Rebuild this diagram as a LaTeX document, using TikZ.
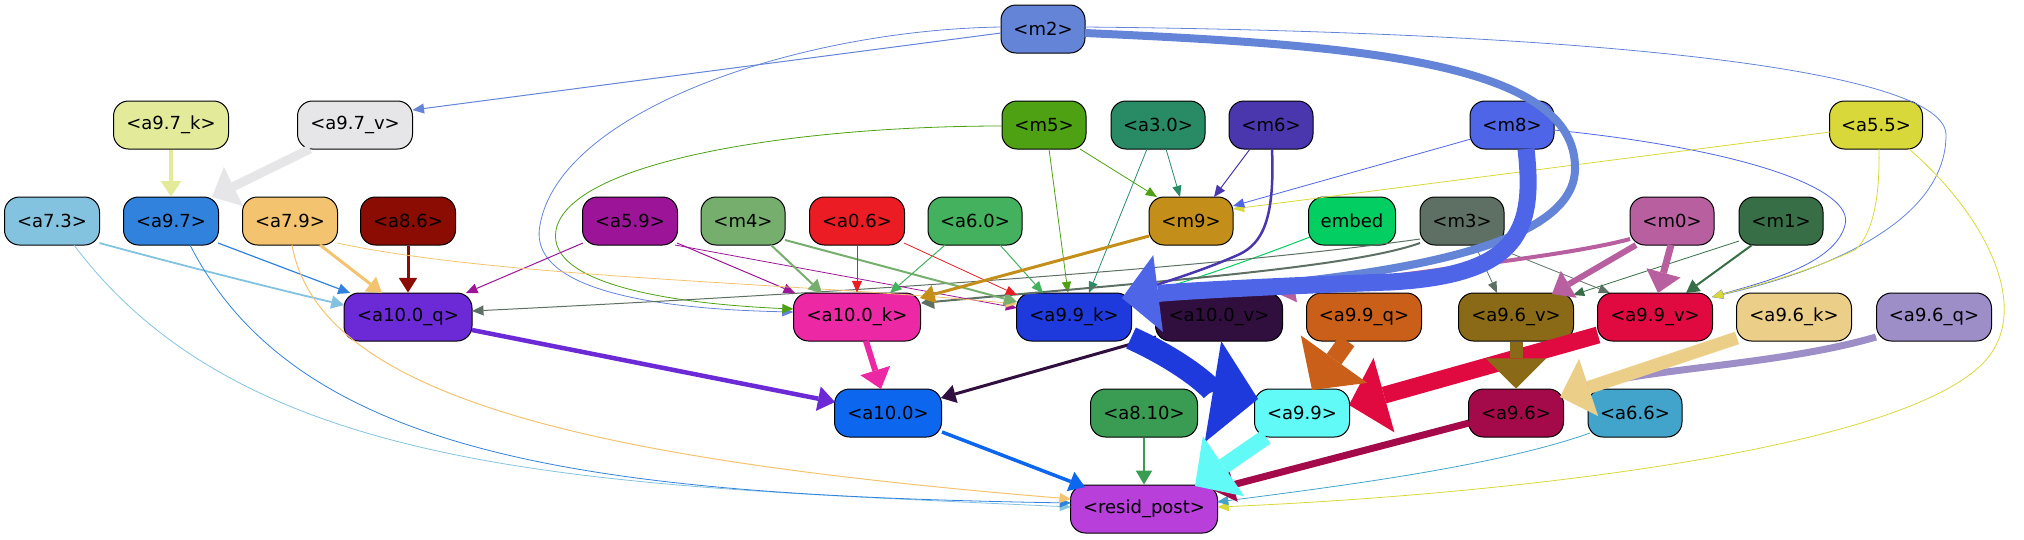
\documentclass[tikz,border=0pt]{standalone}
\usepackage{fontspec}
\setmainfont{DejaVu Sans}
\usetikzlibrary{arrows.meta,calc}
\definecolor{cm2}{HTML}{6484D8}
\definecolor{ca97k}{HTML}{E3EB9B}
\definecolor{ca97v}{HTML}{E6E6E8}
\definecolor{ca73}{HTML}{84C3E0}
\definecolor{ca97}{HTML}{3182DD}
\definecolor{ca79}{HTML}{F3C36F}
\definecolor{ca86}{HTML}{8A0C02}
\definecolor{ca59}{HTML}{9C1598}
\definecolor{cm4}{HTML}{76AE6E}
\definecolor{ca06}{HTML}{EB1C23}
\definecolor{ca60}{HTML}{43B15D}
\definecolor{cm5}{HTML}{4DA112}
\definecolor{ca30}{HTML}{298B66}
\definecolor{cm6}{HTML}{4A37AE}
\definecolor{cm9}{HTML}{C38E19}
\definecolor{cembed}{HTML}{03CE62}
\definecolor{cm3}{HTML}{5E7064}
\definecolor{cm8}{HTML}{4F65E7}
\definecolor{ca55}{HTML}{D8D83A}
\definecolor{cm0}{HTML}{B85FA0}
\definecolor{cm1}{HTML}{386E45}
\definecolor{ca100q}{HTML}{6B2AD6}
\definecolor{ca100k}{HTML}{EC28A4}
\definecolor{ca99k}{HTML}{1F3ADC}
\definecolor{ca100v}{HTML}{300F3F}
\definecolor{ca99q}{HTML}{CA5F19}
\definecolor{ca96v}{HTML}{8B6A17}
\definecolor{ca99v}{HTML}{E10A40}
\definecolor{ca96k}{HTML}{EBCE88}
\definecolor{ca96q}{HTML}{9D8EC8}
\definecolor{ca100}{HTML}{0C67EE}
\definecolor{ca810}{HTML}{3A9B53}
\definecolor{ca99}{HTML}{62FAF6}
\definecolor{ca96}{HTML}{A40A4A}
\definecolor{ca66}{HTML}{42A4CA}
\definecolor{cresid}{HTML}{B83FDA}
\begin{document}
\begin{tikzpicture}[x=1pt,y=1pt,
  nd/.style={draw=black, line width=1pt, rounded corners=15pt, minimum height=48pt, inner sep=0pt, font=\fontsize{18}{20}\selectfont, text=black},
  ed/.style={-{Triangle[length=10pt 1.55, width=6pt 4.2, line width=0pt]}, line join=miter}]
\useasboundingbox (0,0) rectangle (2024,-539);
% row 1
\node[nd, fill=cm2, minimum width=84] (m2) at (1043,-29) {<m2>};
% row 2
\node[nd, fill=ca97k, minimum width=115] (a97k) at (171,-125) {<a9.7\_k>};
\node[nd, fill=ca97v, minimum width=115] (a97v) at (355,-125) {<a9.7\_v>};
\node[nd, fill=cm5, minimum width=84] (m5) at (1044,-125) {<m5>};
\node[nd, fill=ca30, minimum width=94] (a30) at (1158,-125) {<a3.0>};
\node[nd, fill=cm6, minimum width=84] (m6) at (1271,-125) {<m6>};
\node[nd, fill=cm8, minimum width=84] (m8) at (1512,-125) {<m8>};
\node[nd, fill=ca55, minimum width=93] (a55) at (1876,-125) {<a5.5>};
% row 3
\node[nd, fill=ca73, minimum width=95] (a73) at (52,-221) {<a7.3>};
\node[nd, fill=ca97, minimum width=95] (a97) at (171,-221) {<a9.7>};
\node[nd, fill=ca79, minimum width=95] (a79) at (290,-221) {<a7.9>};
\node[nd, fill=ca86, minimum width=95] (a86) at (408,-221) {<a8.6>};
\node[nd, fill=ca59, minimum width=95] (a59) at (630,-221) {<a5.9>};
\node[nd, fill=cm4, minimum width=84] (m4) at (743,-221) {<m4>};
\node[nd, fill=ca06, minimum width=95] (a06) at (857,-221) {<a0.6>};
\node[nd, fill=ca60, minimum width=94] (a60) at (975,-221) {<a6.0>};
\node[nd, fill=cm9, minimum width=84] (m9) at (1191,-221) {<m9>};
\node[nd, fill=cembed, minimum width=87] (embed) at (1352,-221) {embed};
\node[nd, fill=cm3, minimum width=84] (m3) at (1462,-221) {<m3>};
\node[nd, fill=cm0, minimum width=84] (m0) at (1672,-221) {<m0>};
\node[nd, fill=cm1, minimum width=84] (m1) at (1781,-221) {<m1>};
% row 4
\node[nd, fill=ca100q, minimum width=128] (a100q) at (408,-317) {<a10.0\_q>};
\node[nd, fill=ca100k, minimum width=127] (a100k) at (857,-317) {<a10.0\_k>};
\node[nd, fill=ca99k, minimum width=115] (a99k) at (1074,-317) {<a9.9\_k>};
\node[nd, fill=ca100v, minimum width=127] (a100v) at (1219,-317) {<a10.0\_v>};
\node[nd, fill=ca99q, minimum width=115] (a99q) at (1364,-317) {<a9.9\_q>};
\node[nd, fill=ca96v, minimum width=115] (a96v) at (1516,-317) {<a9.6\_v>};
\node[nd, fill=ca99v, minimum width=115] (a99v) at (1655,-317) {<a9.9\_v>};
\node[nd, fill=ca96k, minimum width=115] (a96k) at (1794,-317) {<a9.6\_k>};
\node[nd, fill=ca96q, minimum width=115] (a96q) at (1934,-317) {<a9.6\_q>};
% row 5
\node[nd, fill=ca100, minimum width=107] (a100) at (888,-413) {<a10.0>};
\node[nd, fill=ca810, minimum width=107] (a810) at (1144,-413) {<a8.10>};
\node[nd, fill=ca99, minimum width=95] (a99) at (1302,-413) {<a9.9>};
\node[nd, fill=ca96, minimum width=95] (a96) at (1516,-413) {<a9.6>};
\node[nd, fill=ca66, minimum width=94] (a66) at (1635,-413) {<a6.6>};
% row 6
\node[nd, fill=cresid, minimum width=147] (resid) at (1144,-509) {<resid\_post>};

% ---- thin / long edges
\draw[ed, cm2, line width=1] ($(m2)+(-42,-4)$) -- ($(a97v)+(57.5,15)$);
\draw[ed, cm2, line width=0.8] ($(m2)+(-42,2)$) .. controls (800,-30) and (560,-110) .. (540,-225) .. controls (525,-300) and (700,-310) .. ($(a100k)+(-63.5,5)$);
\draw[ed, cm5, line width=0.8] ($(m5)+(-42,-1)$) .. controls (800,-126) and (570,-160) .. (556,-230) .. controls (545,-290) and (700,-305) .. ($(a100k)+(-63.5,8)$);
\draw[ed, cm2, line width=0.8] ($(m2)+(42,2)$) .. controls (1600,-32) and (1946,-70) .. (1946,-135) .. controls (1946,-220) and (1830,-270) .. ($(a99v)+(57,20)$);
\draw[ed, cm8, line width=0.8] ($(m8)+(42,-5)$) .. controls (1750,-150) and (1855,-190) .. (1845,-225) .. controls (1835,-265) and (1760,-283) .. ($(a99v)+(57,20)$);
\draw[ed, ca55, line width=0.8] ($(a55)+(3,-24)$) .. controls (1880,-200) and (1872,-235) .. (1855,-250) .. controls (1800,-275) and (1750,-287) .. ($(a99v)+(57,20)$);
\draw[ed, ca55, line width=0.8] ($(a55)+(-46,-7)$) -- ($(m9)+(42,12)$);
\draw[ed, cm8, line width=0.8] ($(m8)+(-41,-14)$) -- ($(m9)+(42,15)$);
\draw[ed, ca55, line width=0.8] ($(a55)+(33,-24)$) .. controls (1980,-210) and (2030,-300) .. (1990,-355) .. controls (1920,-450) and (1500,-495) .. ($(resid)+(73.5,2)$);
\draw[ed, cm5, line width=0.8] ($(m5)+(36,-24)$) -- ($(m9)+(-34,24)$);
\draw[ed, cm5, line width=0.8] ($(m5)+(5,-24)$) -- ($(a99k)+(-6,24)$);
\draw[ed, ca30, line width=0.8] ($(a30)+(8,-24)$) -- ($(m9)+(-11,24)$);
\draw[ed, ca30, line width=0.8] ($(a30)+(-11,-24)$) -- ($(a99k)+(15,24)$);
\draw[ed, cm6, line width=1] ($(m6)+(-21,-24)$) -- ($(m9)+(23,24)$);
\draw[ed, cembed, line width=1] ($(embed)+(-42,-16)$) .. controls (1250,-260) and (1180,-285) .. ($(a99k)+(57,21)$);
\draw[ed, cm3, line width=1] ($(m3)+(-42,-18)$) .. controls (1200,-270) and (800,-295) .. ($(a100q)+(64,6)$);
\draw[ed, cm3, line width=2] ($(m3)+(-42,-22)$) .. controls (1350,-268) and (1150,-282) .. ($(a100k)+(64,14)$);
\draw[ed, cm3, line width=0.8] ($(m3)+(13,-24)$) -- ($(a96v)+(-19,24)$);
\draw[ed, cm3, line width=0.8] ($(m3)+(28,-24)$) -- ($(a99v)+(-45,24)$);
\draw[ed, cm1, line width=0.8] ($(m1)+(-42,-20)$) -- ($(a96v)+(57,22)$);
\draw[ed, cm1, line width=2] ($(m1)+(-29,-24)$) -- ($(a99v)+(31,24)$);
% left cluster
\draw[ed, ca97k, line width=3.5] (a97k.south) -- (a97.north);
\draw[ed, ca73, line width=1.8] ($(a73)+(47.5,-22)$) .. controls (180,-265) and (280,-290) .. ($(a100q)+(-64,12)$);
\draw[ed, ca97, line width=1.2] ($(a97)+(47,-22)$) -- ($(a100q)+(-58,24)$);
\draw[ed, ca79, line width=3] ($(a79)+(30,-24)$) -- ($(a100q)+(-26,24)$);
\draw[ed, ca86, line width=3] (a86.south) -- (a100q.north);
\draw[ed, ca59, line width=1] ($(a59)+(-47,-22)$) -- ($(a100q)+(58,24)$);
\draw[ed, ca59, line width=1] ($(a59)+(47,-22)$) -- ($(a100k)+(-62,24)$);
\draw[ed, ca59, line width=0.8] ($(a59)+(45,-24)$) -- ($(a99k)+(-57,9)$);
\draw[ed, ca79, line width=0.8] ($(a79)+(47,-22)$) .. controls (500,-278) and (800,-283) .. ($(a99k)+(-57,13)$);
\draw[ed, cm4, line width=2] ($(m4)+(28,-24)$) -- ($(a100k)+(-35,24)$);
\draw[ed, cm4, line width=2] ($(m4)+(42,-19)$) -- ($(a99k)+(-57,15)$);
\draw[ed, ca06, line width=1] (a06.south) -- (a100k.north);
\draw[ed, ca06, line width=0.8] ($(a06)+(47,-22)$) -- ($(a99k)+(-57,22)$);
\draw[ed, ca60, line width=1] ($(a60)+(-30,-24)$) -- ($(a100k)+(33,24)$);
\draw[ed, ca60, line width=1] ($(a60)+(25,-24)$) -- ($(a99k)+(-31,24)$);
\draw[ed, cm9, line width=3] ($(m9)+(-42,-15)$) -- ($(a100k)+(63,19)$);
\draw[ed, ca73, line width=0.8] ($(a73)+(22,-24)$) .. controls (250,-480) and (600,-485) .. ($(resid)+(-73,2)$);
\draw[ed, ca97, line width=0.8] ($(a97)+(19,-24)$) .. controls (300,-460) and (600,-495) .. ($(resid)+(-73,6)$);
\draw[ed, ca79, line width=1] ($(a79)+(2,-24)$) .. controls (320,-400) and (600,-460) .. ($(resid)+(-73,10)$);
\draw[ed, ca97v, line width=9] ($(a97v)+(-45,-24)$) -- ($(a97)+(41,24)$);
% thick edges into a9.9_k
\draw[ed, cm0, line width=4] ($(m0)+(-42,-18)$) .. controls (1560,-258) and (1400,-272) .. ($(a100v)+(60,23)$);
\draw[ed, cm6, line width=2.5] ($(m6)+(1,-24)$) .. controls (1275,-220) and (1262,-243) .. (1240,-254) .. controls (1200,-272) and (1160,-283) .. ($(a99k)+(56,22)$);
\draw[ed, cm2, line width=8] ($(m2)+(42,-4)$) .. controls (1350,-45) and (1578,-60) .. (1575,-170) .. controls (1572,-265) and (1300,-283) .. ($(a99k)+(50,20)$);
\draw[ed, cm8, line width=17] ($(m8)+(14,-24)$) .. controls (1535,-230) and (1520,-275) .. (1390,-282) .. controls (1250,-287) and (1170,-292) .. ($(a99k)+(48,19)$);
\draw[ed, cm0, line width=6] ($(m0)+(-36,-24)$) -- ($(a96v)+(36,23)$);
\draw[ed, cm0, line width=7] ($(m0)+(-1,-24)$) -- ($(a99v)+(3,24)$);
% lower
\draw[ed, ca100q, line width=4.5] ($(a100q)+(64,-13)$) -- ($(a100)+(-53,11)$);
\draw[ed, ca100k, line width=6] ($(a100k)+(9,-24)$) -- ($(a100)+(-7,24)$);
\draw[ed, ca100v, line width=3] ($(a100v)+(-63,-20)$) -- ($(a100)+(53,15)$);
\draw[ed, ca99v, line width=17] ($(a99v)+(-57,-18)$) -- ($(a99)+(47,8)$);
\draw[ed, ca99q, line width=18] ($(a99q)+(-17,-24)$) -- ($(a99)+(10,23)$);
\draw[ed, ca99k, line width=23] ($(a99k)+(57,-21)$) .. controls (1190,-365) and (1215,-392) .. ($(a99)+(-44,14)$);
\draw[ed, ca96q, line width=7] ($(a96q)+(-58,-20)$) .. controls (1780,-365) and (1650,-368) .. ($(a96)+(47,20)$);
\draw[ed, ca96k, line width=13] ($(a96k)+(-57,-21)$) -- ($(a96)+(44,16)$);
\draw[ed, ca96v, line width=13] (a96v.south) -- (a96.north);
\draw[ed, ca66, line width=0.8] ($(a66)+(-45,-20)$) .. controls (1500,-465) and (1350,-485) .. ($(resid)+(73,7)$);
\draw[ed, ca96, line width=7] ($(a96)+(-47,-10)$) -- ($(resid)+(69,19)$);
\draw[ed, ca810, line width=2.5] (a810.south) -- (resid.north);
\draw[ed, ca100, line width=3.5] ($(a100)+(54,-19)$) -- ($(resid)+(-59,22)$);
\draw[ed, ca99, line width=16] ($(a99)+(-36,-24)$) -- ($(resid)+(51,23)$);
\end{tikzpicture}
\end{document}
